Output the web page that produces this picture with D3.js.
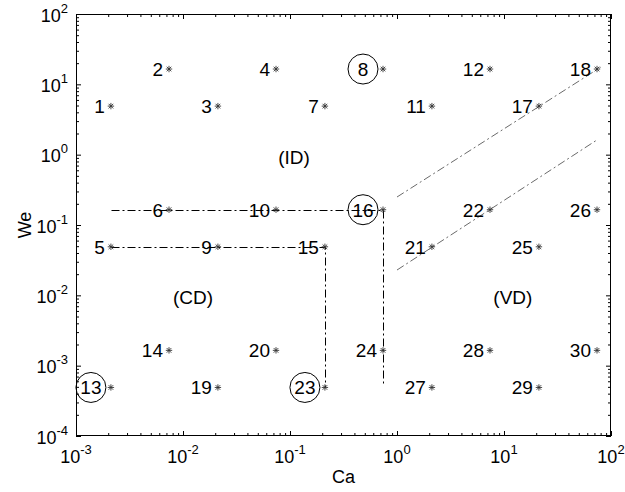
<!DOCTYPE html>
<html>
<head>
<meta charset="utf-8">
<script src="https://cdn.jsdelivr.net/npm/d3@7"></script>
<style>
  html, body { margin: 0; padding: 0; background: #fff; }
  svg { display: block; font-family: "Liberation Sans", Arial, Helvetica, sans-serif; }
</style>
</head>
<body>
<svg id="chart" width="625" height="492"></svg>
<script>
// ---------- data ----------
const pointIds = d3.range(1, 31);
const pointCa = [0.00212, 0.0074, 0.0212, 0.074, 0.00212, 0.0074, 0.212, 0.74, 0.0212, 0.074,
                 2.12, 7.4, 0.00212, 0.0074, 0.212, 0.74, 21.2, 74, 0.0212, 0.074,
                 2.12, 7.4, 0.212, 0.74, 21.2, 74, 2.12, 7.4, 21.2, 74];
const pointWe = [4.9, 16.5, 4.9, 16.5, 0.049, 0.165, 4.9, 16.5, 0.049, 0.165,
                 4.9, 16.5, 0.00049, 0.00165, 0.049, 0.165, 4.9, 16.5, 0.00049, 0.00165,
                 0.049, 0.165, 0.00049, 0.00165, 0.049, 0.165, 0.00049, 0.00165, 0.00049, 0.00165];
const circledIds = [8, 13, 16, 23];

const boundaryCD = [[0.00212, 0.049], [0.212, 0.049], [0.212, 0.00049]];
const boundaryID = [[0.00212, 0.165], [0.74, 0.165], [0.74, 0.00055]];
const diagUpper = [[1.0, 0.25], [80, 17.5]];
const diagLower = [[1.0, 0.0229], [74, 1.62]];

const regionNames = ["(ID)", "(CD)", "(VD)"];
const regionCa = [0.109, 0.0124, 12.1];
const regionWe = [0.93, 0.0095, 0.0095];

const caExponents = [-3, -2, -1, 0, 1, 2];
const weExponents = [-4, -3, -2, -1, 0, 1, 2];

// ---------- layout ----------
const svg = d3.select("#chart");
const L = 76, R = 611, T = 14, B = 436;
const x = d3.scaleLog().domain([1e-3, 1e2]).range([L, R]);
const y = d3.scaleLog().domain([1e-4, 1e2]).range([B, T]);

function minors(lo, hi) {
  const out = [];
  for (let e = lo; e < hi; e++) for (let k = 2; k <= 9; k++) out.push(k * Math.pow(10, e));
  return out;
}
const xMajor = caExponents.map(e => Math.pow(10, e));
const yMajor = weExponents.map(e => Math.pow(10, e));
const xMinor = minors(-3, 2);
const yMinor = minors(-4, 2);

function drawAxis(gen, scale, vals, size, transform) {
  const g = svg.append("g").attr("transform", transform)
    .call(gen(scale).tickValues(vals).tickSizeInner(size).tickSizeOuter(0).tickFormat(""));
  g.select(".domain").remove();
  g.selectAll("line").attr("stroke", "#000").attr("stroke-width", 1);
}
drawAxis(d3.axisBottom, x, xMajor, -5, `translate(0,${B})`);
drawAxis(d3.axisBottom, x, xMinor, -3, `translate(0,${B})`);
drawAxis(d3.axisTop, x, xMajor, -5, `translate(0,${T})`);
drawAxis(d3.axisTop, x, xMinor, -3, `translate(0,${T})`);
drawAxis(d3.axisLeft, y, yMajor, -5, `translate(${L},0)`);
drawAxis(d3.axisLeft, y, yMinor, -3, `translate(${L},0)`);
drawAxis(d3.axisRight, y, yMajor, -5, `translate(${R},0)`);
drawAxis(d3.axisRight, y, yMinor, -3, `translate(${R},0)`);

svg.append("rect").attr("x", L + 0.5).attr("y", T + 0.5)
  .attr("width", R - L - 1).attr("height", B - T - 1)
  .attr("fill", "none").attr("stroke", "#000").attr("stroke-width", 1);

// tick labels
const baseSize = 18, supSize = 13;
caExponents.forEach(e => {
  const t = svg.append("text").attr("x", x(Math.pow(10, e))).attr("y", B + 27)
    .attr("text-anchor", "middle").attr("font-size", baseSize).attr("fill", "#000");
  t.append("tspan").text("10");
  t.append("tspan").attr("font-size", supSize).attr("dy", -9).text(String(e));
});
weExponents.forEach(e => {
  const t = svg.append("text").attr("x", 68).attr("y", y(Math.pow(10, e)) + 7.5)
    .attr("text-anchor", "end").attr("font-size", baseSize).attr("fill", "#000");
  t.append("tspan").text("10");
  t.append("tspan").attr("font-size", supSize).attr("dy", -9).text(String(e));
});

// axis titles
svg.append("text").attr("x", (L + R) / 2).attr("y", 483).attr("text-anchor", "middle")
  .attr("font-size", 18).text("Ca");
svg.append("text").attr("transform", `translate(31,${(T + B) / 2}) rotate(-90)`)
  .attr("text-anchor", "middle").attr("font-size", 18).text("We");

// boundary lines
const snap = v => Math.round(v) + 0.5;
const lineCrisp = d3.line().x(d => snap(x(d[0]))).y(d => snap(y(d[1])));
const line = d3.line().x(d => x(d[0])).y(d => y(d[1]));
[boundaryCD, boundaryID].forEach(pts => {
  svg.append("path").attr("d", lineCrisp(pts)).attr("fill", "none")
    .attr("stroke", "#000").attr("stroke-width", 1).attr("stroke-dasharray", "8,3,2,3");
});
[diagUpper, diagLower].forEach(pts => {
  svg.append("path").attr("d", line(pts)).attr("fill", "none")
    .attr("stroke", "#444").attr("stroke-width", 0.8).attr("stroke-dasharray", "8,3,2,3");
});

// points (asterisk markers)
const labelSize = 19;
const s = 3.2, d2 = s * 0.72;
const starPath = `M${-s},0L${s},0M0,${-s}L0,${s}M${-d2},${-d2}L${d2},${d2}M${-d2},${d2}L${d2},${-d2}`;
pointIds.forEach((id, i) => {
  const px = x(pointCa[i]), py = y(pointWe[i]);
  svg.append("path").attr("d", starPath).attr("transform", `translate(${px},${py})`)
    .attr("fill", "none").attr("stroke", "#333").attr("stroke-width", 0.9);
  if (circledIds.includes(id)) {
    const cx = px - 20;
    svg.append("circle").attr("cx", cx).attr("cy", py).attr("r", 15)
      .attr("fill", "none").attr("stroke", "#000").attr("stroke-width", 1);
    svg.append("text").attr("x", cx).attr("y", py + 7).attr("text-anchor", "middle")
      .attr("font-size", labelSize).text(id);
  } else {
    svg.append("text").attr("x", px - 6).attr("y", py + 7).attr("text-anchor", "end")
      .attr("font-size", labelSize).text(id);
  }
});

// region labels
regionNames.forEach((nm, i) => {
  svg.append("text").attr("x", x(regionCa[i])).attr("y", y(regionWe[i]) + 7)
    .attr("text-anchor", "middle").attr("font-size", labelSize).text(nm);
});
</script>
</body>
</html>
